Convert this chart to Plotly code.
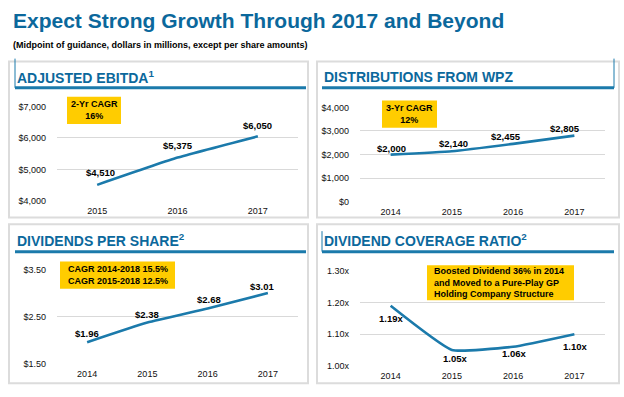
import plotly.graph_objects as go

W, H = 624, 397

# ---- data ----
ebitda_years = ["2015", "2016", "2017"]
ebitda_values = [4510, 5375, 6050]
ebitda_labels = ["$4,510", "$5,375", "$6,050"]

wpz_years = ["2014", "2015", "2016", "2017"]
wpz_values = [2000, 2140, 2455, 2805]
wpz_labels = ["$2,000", "$2,140", "$2,455", "$2,805"]

dps_years = ["2014", "2015", "2016", "2017"]
dps_values = [1.96, 2.38, 2.68, 3.01]
dps_labels = ["$1.96", "$2.38", "$2.68", "$3.01"]

cov_years = ["2014", "2015", "2016", "2017"]
cov_values = [1.19, 1.05, 1.06, 1.10]
cov_labels = ["1.19x", "1.05x", "1.06x", "1.10x"]

ebitda_ticks = [4000, 5000, 6000, 7000]
ebitda_ticktext = ["$4,000", "$5,000", "$6,000", "$7,000"]
wpz_ticks = [0, 1000, 2000, 3000, 4000]
wpz_ticktext = ["$0", "$1,000", "$2,000", "$3,000", "$4,000"]
dps_ticks = [1.5, 2.5, 3.5]
dps_ticktext = ["$1.50", "$2.50", "$3.50"]
cov_ticks = [1.0, 1.1, 1.2, 1.3]
cov_ticktext = ["1.00x", "1.10x", "1.20x", "1.30x"]

# ---- styling ----
BLUE = "#0B689C"
LINE = "#1B7AAB"
GRID = "#D9D9D9"
FRAME = "#DCDCDC"
YELLOW = "#FFCC00"
FONT = "Liberation Sans, Arial, sans-serif"


def fx(p):
    return p / W


def fy(p):
    return 1 - p / H


fig = go.Figure()

panels = [
    (ebitda_years, ebitda_values, ebitda_ticks, ebitda_ticktext, (57, 298), (104, 201), [4000, 7000]),
    (wpz_years, wpz_values, wpz_ticks, wpz_ticktext, (360, 605), (105, 202), [0, 4000]),
    (dps_years, dps_values, dps_ticks, dps_ticktext, (57, 298), (272, 368), [1.5, 3.5]),
    (cov_years, cov_values, cov_ticks, cov_ticktext, (360, 605), (273, 370), [1.0, 1.3]),
]

for i, (yrs, vals, tv, tt, xd, yd, rng) in enumerate(panels, start=1):
    sfx = "" if i == 1 else str(i)
    fig.add_trace(go.Scatter(
        x=yrs, y=vals, mode="lines",
        line=dict(color=LINE, width=2.6, shape="spline", smoothing=0.4),
        xaxis="x" + sfx, yaxis="y" + sfx, hoverinfo="skip", showlegend=False,
    ))
    fig.layout["xaxis" + sfx] = dict(
        domain=[fx(xd[0]), fx(xd[1])], anchor="y" + sfx, type="category",
        showgrid=False, zeroline=False, showline=False, ticks="",
        tickfont=dict(family=FONT, size=9, color="#111"), ticklabelstandoff=3,
        range=[-0.5, len(yrs) - 0.5], fixedrange=True,
    )
    fig.layout["yaxis" + sfx] = dict(
        domain=[fy(yd[1]), fy(yd[0])], anchor="x" + sfx, range=rng,
        tickvals=tv, ticktext=tt, showgrid=True, gridcolor=GRID, gridwidth=1,
        zeroline=False, showline=False, ticks="",
        tickfont=dict(family=FONT, size=9, color="#111"), ticklabelstandoff=10,
        fixedrange=True,
    )

# data labels (x given as category index)
label_sets = [
    ("", ebitda_values, ebitda_labels, [(3, 12), (0, 12), (0, 11)]),
    ("2", wpz_values, wpz_labels, [(1, 6), (2, 8), (-7, 7.5), (-9, 7)]),
    ("3", dps_values, dps_labels, [(0, 9), (0, 8), (1, 9.5), (-6, 6.5)]),
    ("4", cov_values, cov_labels, [(0, -12.5), (3, -9), (1, -6.5), (1, -12.5)]),
]
annotations = []
for sfx, vals, labs, offs in label_sets:
    for idx, (v, lab, (dx, dy)) in enumerate(zip(vals, labs, offs)):
        annotations.append(dict(
            x=idx, y=v, xref="x" + sfx, yref="y" + sfx, text="<b>" + lab + "</b>",
            showarrow=False, xshift=dx, yshift=dy,
            font=dict(family=FONT, size=9.5, color="#000"),
        ))

shapes = []
for x0, x1, y0, y1 in [(9, 308, 58, 218), (317, 619, 58, 218), (9, 308, 225, 388), (317, 619, 225, 388)]:
    shapes.append(dict(type="rect", xref="paper", yref="paper",
                       x0=fx(x0), x1=fx(x1), y0=fy(y1), y1=fy(y0),
                       line=dict(color=FRAME, width=2), fillcolor="rgba(0,0,0,0)", layer="below"))
for x0, x1, y in [(15, 306, 85), (322, 614, 85), (15, 306, 253), (322, 614, 253)]:
    shapes.append(dict(type="line", xref="paper", yref="paper",
                       x0=fx(x0), x1=fx(x1), y0=fy(y), y1=fy(y),
                       line=dict(color=LINE, width=3)))
for x, y0, y1 in [(15, 55, 85), (614, 55, 85), (322, 232, 253)]:
    shapes.append(dict(type="line", xref="paper", yref="paper",
                       x0=fx(x), x1=fx(x), y0=fy(y1), y1=fy(y0),
                       line=dict(color=LINE, width=1)))
boxes = [(67, 121, 94, 122), (382, 437, 98, 126), (60, 175, 263, 291), (427, 574, 267, 303)]
for x0, x1, y0, y1 in boxes:
    shapes.append(dict(type="rect", xref="paper", yref="paper",
                       x0=fx(x0), x1=fx(x1), y0=fy(y1), y1=fy(y0),
                       line=dict(width=0), fillcolor=YELLOW))

callouts = [
    ("<b>2-Yr CAGR<br>16%</b>", 94, 108),
    ("<b>3-Yr CAGR<br>12%</b>", 409.5, 112),
    ("<b>CAGR 2014-2018 15.5%<br>CAGR 2015-2018 12.5%</b>", 117.5, 277),
]
for txt, cx, cy in callouts:
    annotations.append(dict(xref="paper", yref="paper", x=fx(cx), y=fy(cy), text=txt,
                            showarrow=False, align="center", xanchor="center", yanchor="middle",
                            font=dict(family=FONT, size=9, color="#000")))
annotations.append(dict(xref="paper", yref="paper", x=fx(432), y=fy(285),
                        text="<b>Boosted Dividend 36% in 2014<br>and Moved to a Pure-Play GP<br>Holding Company Structure</b>",
                        showarrow=False, align="left", xanchor="left", yanchor="middle",
                        font=dict(family=FONT, size=9, color="#000")))

for txt, x, y in [("ADJUSTED EBITDA<sup>1</sup>", 15, 74), ("DISTRIBUTIONS FROM WPZ", 322, 74),
                  ("DIVIDENDS PER SHARE<sup>2</sup>", 15, 241), ("DIVIDEND COVERAGE RATIO<sup>2</sup>", 322, 241)]:
    annotations.append(dict(xref="paper", yref="paper", x=fx(x), y=fy(y), text="<b>" + txt + "</b>",
                            showarrow=False, xanchor="left", yanchor="middle",
                            font=dict(family=FONT, size=14, color=BLUE)))

annotations.append(dict(xref="paper", yref="paper", x=fx(11), y=fy(16),
                        text="<b>Expect Strong Growth Through 2017 and Beyond</b>",
                        showarrow=False, xanchor="left", yanchor="middle",
                        font=dict(family=FONT, size=21, color=BLUE)))
annotations.append(dict(xref="paper", yref="paper", x=fx(11), y=fy(41),
                        text="<b>(Midpoint of guidance, dollars in millions, except per share amounts)</b>",
                        showarrow=False, xanchor="left", yanchor="middle",
                        font=dict(family=FONT, size=9, color="#000")))

fig.update_layout(
    width=W, height=H, margin=dict(l=0, r=0, t=0, b=0),
    paper_bgcolor="white", plot_bgcolor="white",
    shapes=shapes, annotations=annotations, showlegend=False,
)

fig.write_html("out.html", config={"displayModeBar": False},
               post_script="document.body.style.margin='0';document.body.style.overflow='hidden';")
